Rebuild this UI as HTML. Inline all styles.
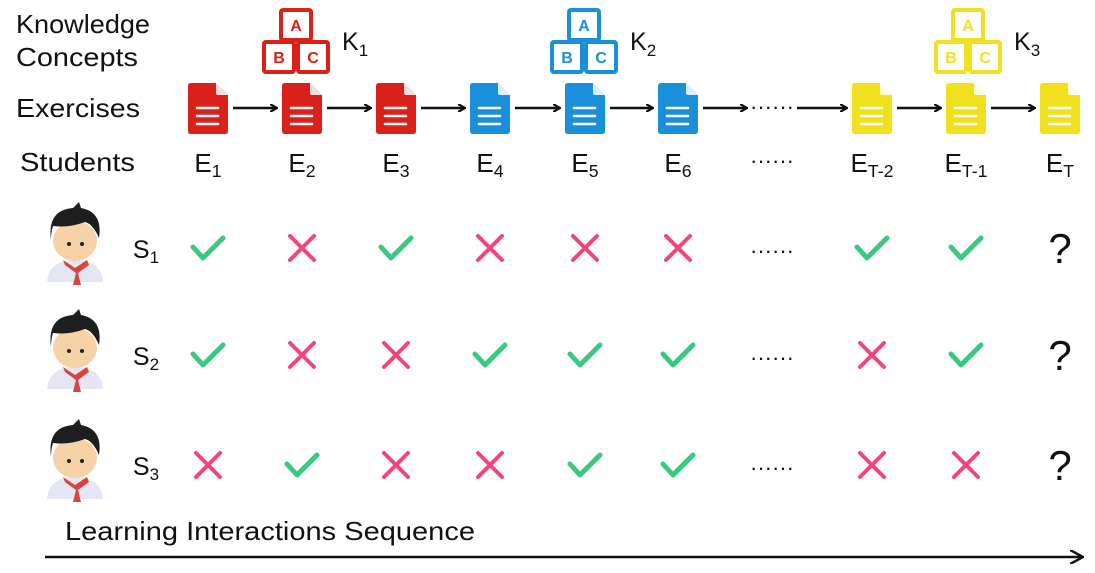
<!DOCTYPE html>
<html><head><meta charset="utf-8"><style>
html,body{margin:0;padding:0;background:#fff}
svg{display:block}
text{font-family:"Liberation Sans",sans-serif;fill:#111}
</style></head><body>
<svg id="fig" width="1095" height="573" viewBox="0 0 1095 573">
<defs>
<marker id="ah" markerWidth="8" markerHeight="8" refX="6" refY="4" orient="auto" markerUnits="userSpaceOnUse"><path d="M0,0 L7,4 L0,8" fill="none" stroke="#111" stroke-width="2.2"/></marker>
<marker id="ah2" markerWidth="14" markerHeight="14" refX="12" refY="7" orient="auto" markerUnits="userSpaceOnUse"><path d="M0,0 L13,7 L0,14" fill="none" stroke="#111" stroke-width="2.5"/></marker>
</defs>
<text x="16" y="33" font-size="26" textLength="134" lengthAdjust="spacingAndGlyphs">Knowledge</text>
<text x="16" y="66" font-size="26" textLength="122" lengthAdjust="spacingAndGlyphs">Concepts</text>
<text x="16" y="117" font-size="26" textLength="124" lengthAdjust="spacingAndGlyphs">Exercises</text>
<text x="20" y="171" font-size="26" textLength="115" lengthAdjust="spacingAndGlyphs">Students</text>
<g id="g"></g>
<text x="65" y="540" font-size="26" textLength="410" lengthAdjust="spacingAndGlyphs">Learning Interactions Sequence</text>
<line x1="45" y1="557" x2="1082" y2="557" stroke="#111" stroke-width="2.5" marker-end="url(#ah2)"/>
</svg>
<script>
const colX=[208,302,396,490,585,678,772,872,966,1060];
const exColors=['#d9201b','#d9201b','#d9201b','#1a8fdc','#1a8fdc','#1a8fdc',null,'#f0e01e','#f0e01e','#f0e01e'];
const exSubs=['1','2','3','4','5','6',null,'T-2','T-1','T'];
const concepts=[{x:296,c:'#d9201b',k:'1'},{x:584,c:'#1a8fdc',k:'2'},{x:968,c:'#f0e01e',k:'3'}];
const rowsY=[248,355,465];
const students=['1','2','3'];
// 1 = correct, 0 = wrong, null = dots/unknown
const responses=[
 [1,0,1,0,0,0,null,1,1,'?'],
 [1,0,0,1,1,1,null,0,1,'?'],
 [0,1,0,0,1,1,null,0,0,'?']
];
const NS='http://www.w3.org/2000/svg';
const g=document.getElementById('g');
function el(t,a,p){const e=document.createElementNS(NS,t);for(const k in a)e.setAttribute(k,a[k]);(p||g).appendChild(e);return e;}
function txt(x,y,s,sub,fs,p){const t=el('text',{x:x,y:y,'font-size':fs,'text-anchor':'middle'},p);t.textContent=s;if(sub){const ts=el('tspan',{'font-size':fs*0.68,dy:5},t);ts.textContent=sub;}return t;}
concepts.forEach((c,i)=>{
 const b=el('g',{});
 
 
 const x=c.x-34;
 const box=(bx,by,l)=>{el('rect',{x:bx,y:by,width:30,height:30,rx:2,fill:'#fff',stroke:c.c,'stroke-width':4},b);const t=el('text',{x:bx+15,y:by+21,'font-size':16,'font-weight':'bold','text-anchor':'middle'},b);t.style.fill=c.c;t.textContent=l;};
 box(x+19,10,'A');box(x+2,42,'B');box(x+36,42,'C');
 const k=el('text',{x:c.x+46,y:50,'font-size':25},b);k.textContent='K';const s=el('tspan',{'font-size':17,dy:6},k);s.textContent=c.k;
});
colX.forEach((x,i)=>{
 if(exColors[i]){
  const d=el('g',{});
  
  
  el('path',{d:`M${x-20},${83} h28 l12,12 v36 q0,3 -3,3 h-34 q-3,0 -3,-3 v-45 q0,-3 3,-3z`,fill:exColors[i]},d);
  el('path',{d:`M${x+8},83 v10 q0,2 2,2 h10z`,fill:'#fff',opacity:0.85},d);
  [108,116,124].forEach(yy=>el('line',{x1:x-11,x2:x+10,y1:yy,y2:yy,stroke:'#fff','stroke-width':2.6,'stroke-linecap':'round'},d));
  const lab=txt(x,172,'E',exSubs[i],26);
  
  
 } else {
  txt(x,114,'······',null,22);txt(x,168,'······',null,22);
 }
 if(i<colX.length-1){
  const a=el('line',{x1:x+25,y1:108,x2:colX[i+1]-26,y2:108,stroke:'#111','stroke-width':2.5,'marker-end':'url(#ah)'});
  
  
 }
});
rowsY.forEach((y,r)=>{
 const s=el('g',{});
 
 
 const cx=75;
 el('path',{d:`M${cx-28},${y+34} q2,-22 28,-22 q26,0 28,22z`,fill:'#e4e6f4'},s);
 el('path',{d:`M${cx-12},${y+12} l12,8 l12,-8 l2,5 l-11,8 l3,12 h-8 l3,-12 l-11,-8z`,fill:'#d8453f'},s);
 el('ellipse',{cx:cx,cy:y-7,rx:22,ry:20,fill:'#f6d2a8'},s);
 el('path',{d:`M${cx-24},${y-8} q-4,-30 22,-32 l6,-6 l2,6 q22,4 18,30 q-6,-14 -14,-16 q-16,6 -32,4 q-2,6 -2,14z`,fill:'#1e1e1e'},s);
 el('circle',{cx:cx-6,cy:y-4,r:2,fill:'#222'},s);el('circle',{cx:cx+7,cy:y-4,r:2,fill:'#222'},s);
 const l=txt(146,y+10,'S',students[r],25);
 
 
 responses[r].forEach((v,i)=>{
  const x=colX[i];
  if(v===1){const m=el('path',{d:`M${x-15},${y-1} l10,11 l20,-20`,fill:'none',stroke:'#3cc97f','stroke-width':5,'stroke-linecap':'round','stroke-linejoin':'round'});
   }
  else if(v===0){const m=el('path',{d:`M${x-12},${y-12} l24,24 M${x+12},${y-12} l-24,24`,fill:'none',stroke:'#f0467a','stroke-width':4,'stroke-linecap':'round'});
   }
  else if(v==='?'){const m=txt(x,y+15,'?',null,42);}
  else {txt(x,y+10,'······',null,22);}
 });
});
</script>
</body></html>
